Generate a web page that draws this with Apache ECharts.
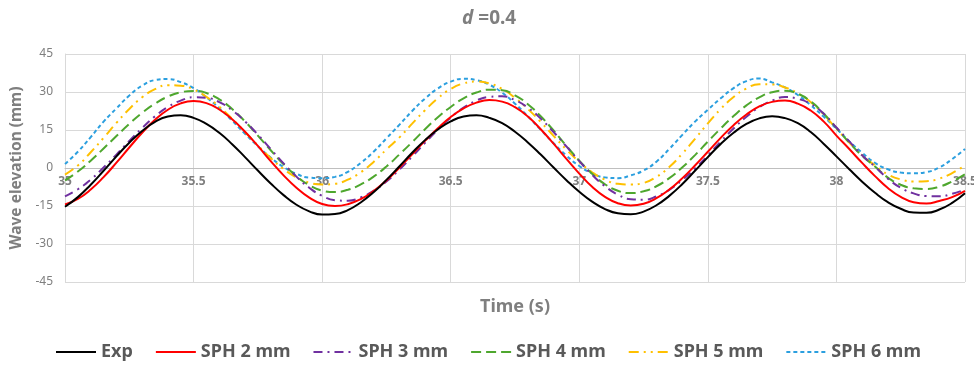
<!DOCTYPE html>
<html>
<head>
<meta charset="utf-8">
<script src="https://cdn.jsdelivr.net/npm/echarts@6/dist/echarts.min.js"></script>
<style>
html, body { margin: 0; padding: 0; background: #ffffff; }
#chart { width: 974px; height: 365px; }
</style>
</head>
<body>
<div id="chart"></div>
<script>
// Sample times (s), every 0.05 s
const time = [35.00, 35.05, 35.10, 35.15, 35.20, 35.25, 35.30, 35.35, 35.40, 35.45,
              35.50, 35.55, 35.60, 35.65, 35.70, 35.75, 35.80, 35.85, 35.90, 35.95,
              36.00, 36.05, 36.10, 36.15, 36.20, 36.25, 36.30, 36.35, 36.40, 36.45,
              36.50, 36.55, 36.60, 36.65, 36.70, 36.75, 36.80, 36.85, 36.90, 36.95,
              37.00, 37.05, 37.10, 37.15, 37.20, 37.25, 37.30, 37.35, 37.40, 37.45,
              37.50, 37.55, 37.60, 37.65, 37.70, 37.75, 37.80, 37.85, 37.90, 37.95,
              38.00, 38.05, 38.10, 38.15, 38.20, 38.25, 38.30, 38.35, 38.40, 38.45,
              38.50];

// Wave elevation (mm)
const exp = [-15.3, -11.5, -6.6, -1.1, 4.6, 10.0, 14.6, 18.2, 20.3, 20.8,
             19.8, 17.4, 13.9, 9.4, 4.3, -1.0, -6.1, -10.7, -14.5, -17.1,
             -18.4, -18.2, -16.6, -13.6, -9.6, -4.7, 0.6, 6.0, 11.0, 15.2,
             18.4, 20.3, 20.8, 19.8, 17.7, 14.3, 10.1, 5.3, 0.2, -4.8,
             -9.4, -13.3, -16.2, -17.9, -18.3, -17.2, -14.7, -11.0, -6.4, -1.1,
             4.3, 9.5, 13.9, 17.4, 19.6, 20.4, 19.7, 17.7, 14.2, 9.6,
             4.6, -0.5, -5.4, -9.8, -13.5, -16.1, -17.6, -17.7, -16.4, -13.8,
             -10.0];
const sph2 = [-14.4, -12.2, -8.5, -3.6, 2.1, 8.1, 13.9, 19.0, 23.0, 25.5,
              26.4, 25.6, 23.1, 19.2, 14.3, 8.7, 2.7, -2.9, -7.8, -11.7,
              -14.2, -15.0, -14.3, -12.3, -9.1, -4.9, 0.1, 5.4, 10.7, 15.7,
              20.1, 23.5, 25.8, 26.8, 26.2, 24.0, 20.3, 15.3, 9.6, 3.6,
              -2.2, -7.4, -11.4, -13.9, -14.8, -14.1, -11.9, -8.5, -4.1, 1.0,
              6.4, 11.9, 16.9, 21.1, 24.3, 26.1, 26.6, 25.4, 22.7, 18.4,
              12.8, 7.5, 2.0, -3.2, -7.9, -11.4, -13.5, -14.0, -13.0, -11.5,
              -9.0];
const sph3 = [-11.2, -8.4, -4.6, 0.2, 5.3, 10.7, 15.8, 20.4, 24.1, 26.6,
              27.9, 27.7, 26.0, 22.8, 18.4, 13.2, 7.5, 1.8, -3.4, -7.8,
              -11.0, -12.7, -12.9, -11.6, -9.0, -5.3, -0.7, 4.5, 9.9, 15.1,
              19.9, 23.8, 26.6, 28.1, 28.3, 26.8, 23.8, 19.5, 14.2, 8.5,
              2.7, -2.7, -7.2, -10.5, -12.3, -12.5, -11.2, -8.6, -4.8, -0.2,
              5.0, 10.4, 15.6, 20.2, 24.0, 26.6, 28.0, 27.3, 25.3, 21.5,
              16.0, 10.5, 5.0, 0.5, -4.2, -7.8, -10.0, -11.1, -11.2, -10.2,
              -8.5];
const sph4 = [-4.9, -1.4, 2.9, 7.7, 12.6, 17.4, 21.8, 25.4, 28.2, 29.9,
              30.4, 29.6, 27.1, 23.3, 18.4, 12.8, 7.0, 1.5, -3.2, -6.8,
              -8.9, -9.5, -8.6, -6.5, -3.4, 0.6, 5.3, 10.2, 15.3, 20.0,
              24.1, 27.5, 29.8, 30.9, 30.7, 28.7, 25.2, 20.4, 14.8, 8.7,
              2.9, -2.3, -6.4, -9.0, -9.9, -9.2, -7.2, -4.0, 0.2, 5.1,
              10.4, 15.6, 20.5, 24.7, 27.9, 29.9, 30.5, 29.3, 26.3, 21.5,
              15.8, 10.0, 4.8, 0.6, -3.8, -6.6, -8.0, -8.3, -7.4, -5.3,
              -2.5];
const sph5 = [-2.6, 1.0, 6.2, 11.9, 17.8, 23.3, 27.9, 31.1, 32.7, 32.5,
              31.0, 28.1, 24.2, 19.4, 14.2, 8.9, 3.9, -0.4, -3.7, -5.8,
              -6.5, -6.2, -4.6, -1.7, 2.4, 7.3, 12.0, 17.5, 22.8, 27.5,
              31.2, 33.4, 34.1, 33.4, 31.2, 27.7, 23.3, 18.2, 12.7, 7.3,
              2.4, -1.7, -4.6, -6.2, -6.5, -5.9, -3.5, 0.4, 5.6, 11.5,
              17.6, 23.3, 28.0, 31.4, 33.1, 33.0, 31.8, 29.5, 26.0, 21.2,
              15.5, 10.0, 5.0, 1.0, -2.5, -4.5, -5.3, -5.2, -4.2, -2.0,
              1.0];
const sph6 = [1.6, 6.4, 12.2, 18.3, 23.5, 28.6, 32.5, 34.7, 35.1, 33.9,
              31.5, 27.9, 23.6, 18.7, 13.5, 8.6, 4.1, 0.4, -2.3, -3.8,
              -4.0, -3.5, -1.5, 2.0, 6.4, 11.7, 17.0, 22.5, 27.4, 31.4,
              34.1, 35.2, 34.7, 32.9, 29.7, 25.4, 20.4, 15.1, 9.8, 4.9,
              0.8, -2.1, -3.7, -4.0, -2.9, -1.0, 2.5, 7.5, 13.0, 18.3,
              23.0, 27.5, 31.5, 34.3, 35.3, 33.8, 31.8, 28.8, 24.8, 20.3,
              15.5, 10.5, 6.0, 2.0, -0.5, -1.8, -2.1, -1.6, 0.2, 3.5,
              7.5];

const seriesNames = ['Exp', 'SPH 2 mm', 'SPH 3 mm', 'SPH 4 mm', 'SPH 5 mm', 'SPH 6 mm'];
const seriesValues = [exp, sph2, sph3, sph4, sph5, sph6];
const seriesColors = ['#000000', '#ff0000', '#7030a0', '#4ea72e', '#ffc000', '#2b9fdf'];
const seriesDash = ['solid', 'solid', [9, 5, 2, 5], [10, 5], [10, 5, 2, 5, 2, 5], [4, 3]];

const textGray = '#7f7f7f';
const font = 'Noto Sans';

const chart = echarts.init(document.getElementById('chart'));

const series = seriesNames.map((name, k) => ({
  name: name,
  type: 'line',
  data: time.map((t, i) => [t, seriesValues[k][i]]),
  smooth: true,
  symbol: 'none',
  showSymbol: false,
  lineStyle: { color: seriesColors[k], width: 2, type: seriesDash[k] },
  itemStyle: { color: seriesColors[k] },
  z: 10 - k
}));

chart.setOption({
  animation: false,
  title: {
    text: '{i|d} {n|=0.4}',
    left: 457,
    top: 4,
    textStyle: {
      rich: {
        i: { fontFamily: font, fontSize: 19, fontWeight: 'bold', fontStyle: 'italic', color: textGray },
        n: { fontFamily: font, fontSize: 19, fontWeight: 'bold', color: textGray }
      }
    }
  },
  grid: { left: 65, right: 9, top: 54, bottom: 83, containLabel: false, outerBoundsMode: 'none' },
  xAxis: {
    type: 'value',
    min: 35,
    max: 38.5,
    interval: 0.5,
    // axis drawn along the zero line of the elevation axis
    offset: -114,
    name: 'Time (s)',
    nameLocation: 'middle',
    nameGap: 130,
    nameTextStyle: { fontFamily: font, fontSize: 18, fontWeight: 'bold', color: textGray },
    axisLine: { onZero: false, lineStyle: { color: '#bfbfbf', width: 1 } },
    axisTick: { show: false },
    axisLabel: { fontFamily: font, fontSize: 12, fontWeight: 'bold', color: textGray, margin: 8 },
    splitLine: { show: true, lineStyle: { color: '#d9d9d9', width: 1 } }
  },
  yAxis: {
    type: 'value',
    min: -45,
    max: 45,
    interval: 15,
    name: 'Wave elevation (mm)',
    nameLocation: 'middle',
    nameGap: 36,
    nameTextStyle: { fontFamily: font, fontSize: 15.5, fontWeight: 'bold', color: textGray },
    axisLine: { show: true, lineStyle: { color: '#d9d9d9', width: 1 } },
    axisTick: { show: false },
    axisLabel: { fontFamily: font, fontSize: 12, color: textGray, margin: 12 },
    splitLine: { show: true, lineStyle: { color: '#d9d9d9', width: 1 } }
  },
  legend: {
    data: seriesNames,
    left: 50,
    top: 338,
    itemWidth: 40,
    itemHeight: 14,
    itemGap: 22,
    itemStyle: { opacity: 0 },
    textStyle: { fontFamily: font, fontSize: 18, fontWeight: 'bold', color: '#595959' }
  },
  series: series
});
</script>
</body>
</html>
